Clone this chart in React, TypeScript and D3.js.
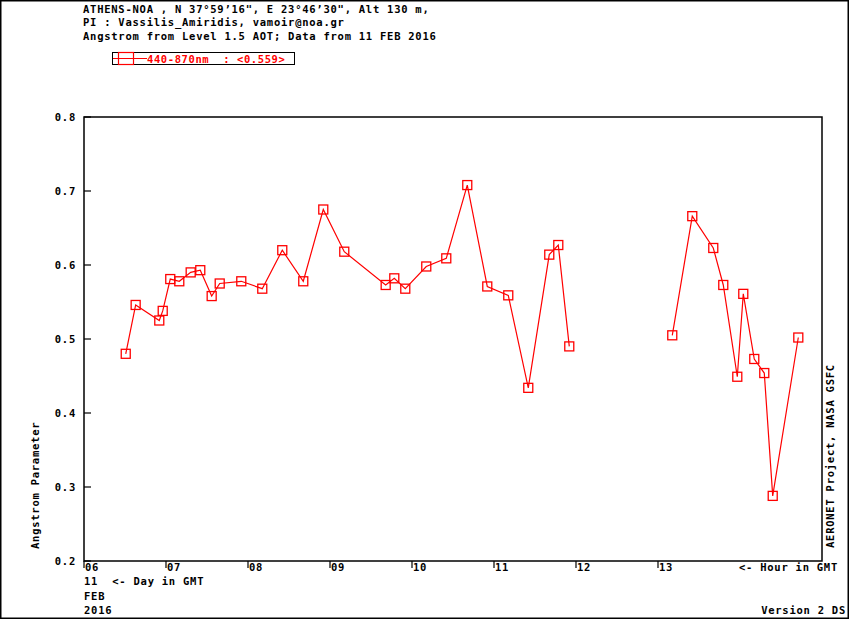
import { useEffect, useRef } from 'react';
import * as d3 from 'd3';

// Hour in GMT (11 FEB 2016) and Angstrom parameter 440-870nm
const hours = [
  6.509, 6.63, 6.918, 6.96, 7.052, 7.162, 7.301, 7.418, 7.557, 7.655,
  7.918, 8.174, 8.418, 8.674, 8.918, 9.174, 9.679, 9.784, 9.918, 10.174,
  10.418, 10.674, 10.918, 11.174, 11.418, 11.674, 11.784, 11.918,
  13.174, 13.418, 13.674, 13.796, 13.967, 14.04, 14.174, 14.296, 14.399, 14.711,
];
const angstrom = [
  0.48, 0.546, 0.525, 0.538, 0.581, 0.578, 0.59, 0.593, 0.558, 0.575,
  0.578, 0.568, 0.62, 0.578, 0.675, 0.618, 0.573, 0.582, 0.568, 0.598,
  0.609, 0.708, 0.571, 0.559, 0.434, 0.614, 0.627, 0.49,
  0.505, 0.666, 0.623, 0.573, 0.449, 0.561, 0.473, 0.454, 0.288, 0.502,
];
const hourTicks = ['06', '07', '08', '09', '10', '11', '12', '13'];
const yTicks = [0.2, 0.3, 0.4, 0.5, 0.6, 0.7, 0.8];
const titleLines = [
  'ATHENS-NOA , N 37°59’16", E 23°46’30", Alt 130 m,',
  'PI : Vassilis_Amiridis, vamoir@noa.gr',
  'Angstrom from Level 1.5 AOT; Data from 11 FEB 2016',
];
const legendLabel = '440-870nm  : <0.559>';

const RED = '#ff0000';
const FONT = '"DejaVu Sans Mono", monospace';

export default function App() {
  const ref = useRef<SVGSVGElement>(null);

  useEffect(() => {
    document.body.style.margin = '0';
    const svg = d3.select(ref.current);
    svg.selectAll('*').remove();

    const W = 850, H = 620;
    const m = { left: 84, right: 822, top: 117, bottom: 561 };

    const x = d3.scaleLinear().domain([6, 15]).range([m.left, m.right]);
    const y = d3.scaleLinear().domain([0.2, 0.8]).range([m.bottom, m.top]);

    const txt = (sel: any) =>
      sel.attr('font-family', FONT).attr('font-size', 10.5).attr('font-weight', 'bold')
        .attr('letter-spacing', 0.75).attr('fill', '#000').style('white-space', 'pre');

    svg.append('rect').attr('width', W).attr('height', H).attr('fill', '#fff');
    svg.append('rect').attr('x', 0.75).attr('y', 0.75).attr('width', 847.5).attr('height', 617.5)
      .attr('fill', 'none').attr('stroke', '#000').attr('stroke-width', 1.5);

    // Header
    titleLines.forEach((t, i) => {
      svg.append('text').call(txt).attr('x', 83).attr('y', 13 + i * 13.3).text(t);
    });

    // Legend
    const lg = svg.append('g');
    lg.append('rect').attr('x', 112.5).attr('y', 52.5).attr('width', 182).attr('height', 12)
      .attr('fill', 'none').attr('stroke', '#000').attr('stroke-width', 1);
    lg.append('line').attr('x1', 113).attr('x2', 147).attr('y1', 58.5).attr('y2', 58.5)
      .attr('stroke', RED).attr('stroke-width', 1);
    lg.append('rect').attr('x', 118.5).attr('y', 52.5).attr('width', 15).attr('height', 12)
      .attr('fill', 'none').attr('stroke', RED).attr('stroke-width', 1.2);
    lg.append('text').call(txt).attr('fill', RED).attr('letter-spacing', 0.6)
      .attr('x', 147).attr('y', 62.5).text(legendLabel);

    // Frame
    svg.append('rect').attr('x', m.left).attr('y', m.top)
      .attr('width', m.right - m.left).attr('height', m.bottom - m.top)
      .attr('fill', 'none').attr('stroke', '#000').attr('stroke-width', 1.5);

    // Y ticks
    yTicks.forEach((v) => {
      svg.append('line').attr('x1', m.left).attr('x2', m.left + 7)
        .attr('y1', y(v)).attr('y2', y(v)).attr('stroke', '#000').attr('stroke-width', 1.2);
      svg.append('text').call(txt).attr('text-anchor', 'end')
        .attr('x', 76).attr('y', y(v) + 4).text(v.toFixed(1));
    });

    // X ticks
    hourTicks.forEach((h) => {
      const px = x(+h);
      svg.append('line').attr('x1', px).attr('x2', px).attr('y1', m.bottom).attr('y2', m.bottom + 7)
        .attr('stroke', '#000').attr('stroke-width', 1.2);
      svg.append('text').call(txt).attr('x', px + 1).attr('y', 570.5).text(h);
    });
    svg.append('text').call(txt).attr('x', 739).attr('y', 570.5).text('<- Hour in GMT');
    svg.append('text').call(txt).attr('x', 84).attr('y', 585).text('11  <- Day in GMT');
    svg.append('text').call(txt).attr('x', 84).attr('y', 599.5).text('FEB');
    svg.append('text').call(txt).attr('x', 84).attr('y', 614).text('2016');
    svg.append('text').call(txt).attr('text-anchor', 'end').attr('x', 846).attr('y', 614)
      .text('Version 2 DS');

    // Axis titles
    svg.append('text').call(txt).attr('transform', 'translate(38.5,549) rotate(-90)')
      .text('Angstrom Parameter');
    svg.append('text').call(txt).attr('transform', 'translate(834,548) rotate(-90)')
      .text('AERONET Project, NASA GSFC');

    // Series, broken where measurements stop for more than an hour
    const pts = hours.map((h, i) => [h, angstrom[i]] as [number, number]);
    const segments: [number, number][][] = [];
    pts.forEach((p, i) => {
      if (i === 0 || p[0] - pts[i - 1][0] > 1) segments.push([]);
      segments[segments.length - 1].push(p);
    });
    const line = d3.line<[number, number]>().x((d) => x(d[0])).y((d) => y(d[1]));
    segments.forEach((s) => {
      svg.append('path').attr('d', line(s)).attr('fill', 'none')
        .attr('stroke', RED).attr('stroke-width', 1.2);
    });
    svg.selectAll('.mk').data(pts).join('rect')
      .attr('x', (d) => x(d[0]) - 4.5).attr('y', (d) => y(d[1]) - 4.5)
      .attr('width', 9).attr('height', 9)
      .attr('fill', 'none').attr('stroke', RED).attr('stroke-width', 1.3);
  }, []);

  return <svg ref={ref} width={850} height={620} style={{ display: 'block' }} />;
}
